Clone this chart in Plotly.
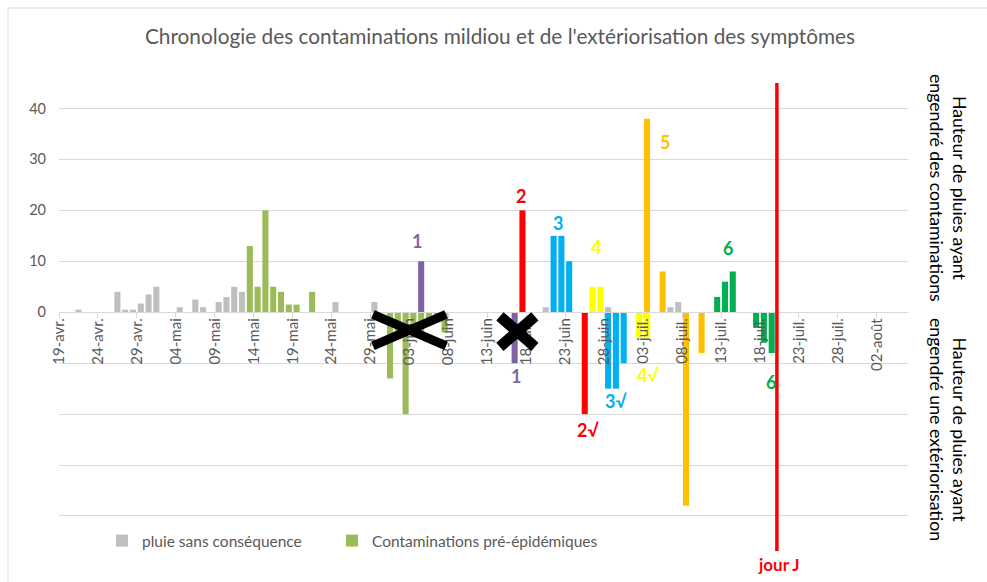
import pandas as pd
import plotly.graph_objects as go

START = "2023-04-19"

# ---------------- data ----------------
tick_labels = ["19-avr.", "24-avr.", "29-avr.", "04-mai", "09-mai", "14-mai", "19-mai",
               "24-mai", "29-mai", "03-juin", "08-juin", "13-juin", "18-juin", "23-juin",
               "28-juin", "03-juil.", "08-juil.", "13-juil.", "18-juil.", "23-juil.",
               "28-juil.", "02-août"]

grey_dates = ["2023-04-21", "2023-04-26", "2023-04-27", "2023-04-28", "2023-04-29", "2023-04-30",
              "2023-05-01", "2023-05-04", "2023-05-06", "2023-05-07", "2023-05-09", "2023-05-10",
              "2023-05-11", "2023-05-12", "2023-05-24", "2023-05-29", "2023-06-20", "2023-06-28",
              "2023-07-06", "2023-07-07"]
grey_vals = [0.5, 4, 0.5, 0.5, 1.7, 3.5, 5, 1, 2.5, 1, 2, 3, 5, 4, 2, 2, 1, 1, 1, 2]

pre_dates = ["2023-05-13", "2023-05-14", "2023-05-15", "2023-05-16", "2023-05-17", "2023-05-18",
             "2023-05-19", "2023-05-21",
             "2023-05-31", "2023-06-01", "2023-06-02", "2023-06-03", "2023-06-04", "2023-06-05",
             "2023-06-06", "2023-06-07"]
pre_vals = [13, 5, 20, 5, 4, 1.5, 1.5, 4,
            -13, -5, -20, -5, -4, -1.5, -1.5, -4]

c1_dates = ["2023-06-04", "2023-06-16"]
c1_vals = [10, -10]

c2_dates = ["2023-06-17", "2023-06-25"]
c2_vals = [20, -20]

c3_dates = ["2023-06-21", "2023-06-22", "2023-06-23", "2023-06-28", "2023-06-29", "2023-06-30"]
c3_vals = [15, 15, 10, -15, -15, -10]

c4_dates = ["2023-06-26", "2023-06-27", "2023-07-02", "2023-07-03"]
c4_vals = [5, 5, -5, -5]

c5_dates = ["2023-07-03", "2023-07-05", "2023-07-08", "2023-07-10"]
c5_vals = [38, 8, -38, -8]

c6_dates = ["2023-07-12", "2023-07-13", "2023-07-14", "2023-07-17", "2023-07-18", "2023-07-19"]
c6_vals = [3, 6, 8, -3, -6, -8]

jour_j = "2023-07-20 04:00"

# ---------------- helpers ----------------
start = pd.Timestamp(START)


def pos(dates):
    return [(pd.Timestamp(d) - start) / pd.Timedelta(days=1) + 0.5 for d in dates]


W, H = 987, 582
ML, MR, MT, MB = 59, 79, 83, 66
PW, PH = W - ML - MR, H - MT - MB
YMIN, YMAX = -40, 45


def px_x(px):
    return (px - ML) / PW


def px_y(py):
    return (H - MB - py) / PH


FONT = "Lato"
GREY_TXT = "#595959"
GRID = "#D9D9D9"

series = [
    ("pluie sans conséquence", grey_dates, grey_vals, "#BFBFBF", True, "legend"),
    ("Contaminations pré-épidémiques", pre_dates, pre_vals, "#9BBB59", True, "legend2"),
    ("1", c1_dates, c1_vals, "#8064A2", False, "legend"),
    ("2", c2_dates, c2_vals, "#FF0000", False, "legend"),
    ("3", c3_dates, c3_vals, "#00B0F0", False, "legend"),
    ("4", c4_dates, c4_vals, "#FFFF00", False, "legend"),
    ("5", c5_dates, c5_vals, "#FFC000", False, "legend"),
    ("6", c6_dates, c6_vals, "#00B050", False, "legend"),
]

fig = go.Figure()
for name, d, v, col, leg, lg in series:
    fig.add_trace(go.Bar(x=pos(d), y=v, name=name, marker_color=col,
                         marker_line_width=0, showlegend=leg, legend=lg))

legend_style = dict(orientation="h", yanchor="middle", xanchor="left",
                    font=dict(size=15.5, color=GREY_TXT, family=FONT),
                    bgcolor="rgba(0,0,0,0)")

fig.update_layout(
    width=W, height=H,
    margin=dict(l=ML, r=MR, t=MT, b=MB, autoexpand=False),
    barmode="relative", bargap=0.22,
    paper_bgcolor="white", plot_bgcolor="white",
    font=dict(family=FONT, color=GREY_TXT),
    title=dict(text="Chronologie des contaminations mildiou et de l'extériorisation des symptômes",
               x=500 / W, xref="container", xanchor="center", y=1 - 37 / H, yanchor="middle",
               font=dict(size=20.8, color=GREY_TXT, family=FONT)),
    legend=dict(x=px_x(102), y=px_y(541), **legend_style),
    legend2=dict(x=px_x(332), y=px_y(541), **legend_style),
)

fig.update_xaxes(range=[0, 109], tickmode="array",
                 tickvals=[5 * i for i in range(len(tick_labels))], ticktext=tick_labels,
                 tickangle=-90, tickfont=dict(size=15, color=GREY_TXT, family=FONT),
                 showgrid=False, zeroline=False, showline=True, linecolor=GRID,
                 ticks="outside", ticklen=5, tickcolor=GRID, ticklabelstandoff=-6,
                 anchor="free", position=(0 - YMIN) / (YMAX - YMIN), automargin=False)

ytv = list(range(-40, 41, 10))
fig.update_yaxes(range=[YMIN, YMAX], tickmode="array", tickvals=ytv,
                 ticktext=[str(v) if v >= 0 else "" for v in ytv],
                 tickfont=dict(size=14.5, color=GREY_TXT, family=FONT),
                 showgrid=True, gridcolor=GRID, gridwidth=1, zeroline=False,
                 showline=False, ticks="", ticklabelstandoff=12, automargin=False)

# bottom gridline (at the range edge, drawn in paper space so it is not clipped)
fig.add_shape(type="line", xref="paper", yref="paper", x0=0, x1=1,
              y0=px_y(H - MB - 0.5), y1=px_y(H - MB - 0.5),
              line=dict(color=GRID, width=1), layer="below")

# data labels
labels = [
    ("1", 45.9, 14.0, "#8064A2"),
    ("1", 58.7, -12.6, "#8064A2"),
    ("2", 59.3, 22.8, "#FF0000"),
    ("2√", 67.9, -23.2, "#FF0000"),
    ("3", 64.0, 17.6, "#00B0F0"),
    ("3√", 71.5, -17.4, "#00B0F0"),
    ("4", 69.0, 12.9, "#FFFF00"),
    ("4√", 75.6, -12.4, "#FFFF00"),
    ("5", 77.8, 33.5, "#FFC000"),
    ("5√", 80.5, -41.4, "#FFC000"),
    ("6", 85.9, 12.6, "#00B050"),
    ("6", 91.4, -13.6, "#00B050"),
]
for t, x, y, c in labels:
    fig.add_annotation(text=t, x=x, y=y, xref="x", yref="y", showarrow=False,
                       font=dict(size=18, color=c, family=FONT, weight="bold"),
                       xanchor="center", yanchor="middle")

jx = pos([jour_j])[0] - 0.5
fig.add_annotation(text="jour J", x=jx + 0.3, y=px_y(564), xref="x", yref="paper",
                   showarrow=False, font=dict(size=17, color="#FF0000", family=FONT, weight="bold"),
                   xanchor="center", yanchor="middle")

# jour J line
fig.add_shape(type="line", xref="x", yref="paper", x0=jx, x1=jx, y0=1.0, y1=px_y(551),
              line=dict(color="#FF0000", width=3.5))

# black crosses
for (xa, xb, ya, yb, w) in [(40.3, 49.7, -0.4, -6.6, 9), (56.6, 61.1, -0.8, -6.8, 11)]:
    fig.add_shape(type="line", xref="x", yref="y", x0=xa, x1=xb, y0=ya, y1=yb,
                  line=dict(color="black", width=w))
    fig.add_shape(type="line", xref="x", yref="y", x0=xa, x1=xb, y0=yb, y1=ya,
                  line=dict(color="black", width=w))

# right side titles
fig.add_annotation(text="Hauteur de pluies ayant<br>engendré des contaminations",
                   x=px_x(948), y=px_y(188), xref="paper", yref="paper", showarrow=False,
                   textangle=90, font=dict(size=17.7, color="black", family=FONT),
                   xanchor="center", yanchor="middle")
fig.add_annotation(text="Hauteur de pluies ayant<br>engendré une extériorisation",
                   x=px_x(948), y=px_y(430), xref="paper", yref="paper", showarrow=False,
                   textangle=90, font=dict(size=17.7, color="black", family=FONT),
                   xanchor="center", yanchor="middle")

# chart border
fig.add_shape(type="rect", xref="paper", yref="paper", x0=px_x(8), x1=px_x(1100),
              y0=px_y(700), y1=px_y(8), line=dict(color=GRID, width=1), layer="below")

fig.write_html("out.html", config={"displayModeBar": False},
               post_script="document.body.style.margin='0';")
